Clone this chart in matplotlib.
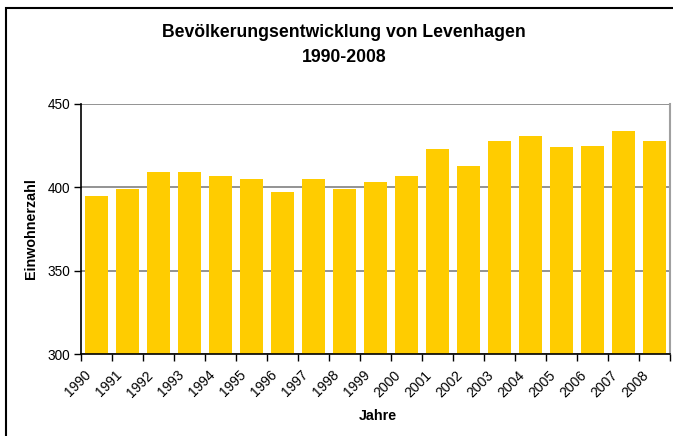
import matplotlib
matplotlib.use("Agg")
import matplotlib.pyplot as plt
from matplotlib.patches import Rectangle
from matplotlib.transforms import ScaledTranslation

plt.rcParams['font.family'] = ['Liberation Sans', 'DejaVu Sans']

years = ['1990', '1991', '1992', '1993', '1994', '1995', '1996', '1997', '1998', '1999',
         '2000', '2001', '2002', '2003', '2004', '2005', '2006', '2007', '2008']
einwohner = [395, 399, 409, 409, 407, 405, 397, 405, 399, 403,
             407, 423, 413, 428, 431, 424, 425, 434, 428]
y_ticks = [300, 350, 400, 450]

W, H = 673, 436
fig = plt.figure(figsize=(W / 100, H / 100), dpi=100)

# plot area in pixel coordinates
left, right, top, bottom = 81, 670, 104, 354
ax = fig.add_axes([left / W, 1 - bottom / H, (right - left) / W, (bottom - top) / H])

x = list(range(len(years)))
ax.bar(x, einwohner, width=0.74, color='#FFCC00', zorder=2)

ax.set_ylim(300, 450)
ax.set_xlim(-0.5, len(years) - 0.5)
ax.set_yticks(y_ticks)
ax.set_yticklabels([str(v) for v in y_ticks], fontsize=9.8)
ax.yaxis.grid(True, color='#808080', linewidth=1.2, zorder=1)
ax.set_axisbelow(True)

# category boundaries carry the ticks, labels sit near the centres
ax.set_xticks([i - 0.5 for i in range(len(years) + 1)])
ax.set_xticklabels([])
ax.tick_params(axis='x', direction='out', length=5, width=1, color='black')
ax.tick_params(axis='y', direction='out', length=5, width=1, color='black', pad=3)
off = ScaledTranslation(-3 / 100, -14 / 100, fig.dpi_scale_trans)
for i, lab in enumerate(years):
    ax.text(i, 300, lab, rotation=45, ha='right', va='top', fontsize=10,
            transform=ax.transData + off, clip_on=False)

for s in ('left', 'bottom'):
    ax.spines[s].set_color('black')
    ax.spines[s].set_linewidth(1.2)
ax.spines['top'].set_visible(False)
ax.spines['right'].set_color('#A0A0A0')
ax.spines['right'].set_linewidth(1.5)

ax.set_ylabel('Einwohnerzahl', fontsize=10.3, fontweight='bold')
ax.yaxis.set_label_coords((31 - left) / (right - left), 0.5)
ax.yaxis.label.set_va('center')
fig.text(378 / W, 1 - 416 / H, 'Jahre', ha='center', va='center', fontsize=10.3, fontweight='bold')

fig.text(344 / W, 1 - 45 / H, 'Bevölkerungsentwicklung von Levenhagen\n1990-2008',
         ha='center', va='center', fontsize=12.7, fontweight='bold', linespacing=1.6)

# outer chart frame (only left and top edges fall inside the image)
fig.patches.append(Rectangle((6 / W, -0.1), 1.2, 1 - 8 / H + 0.1, transform=fig.transFigure,
                             fill=False, edgecolor='black', linewidth=1.5))

fig.savefig('out.png', dpi=100)
